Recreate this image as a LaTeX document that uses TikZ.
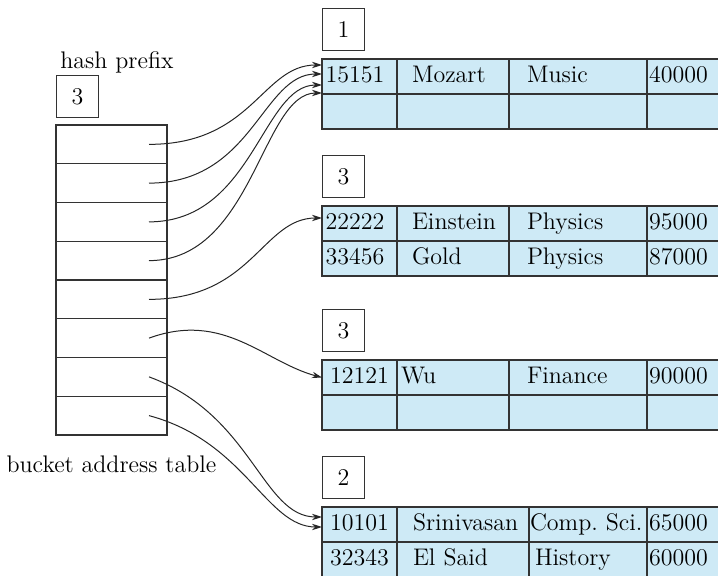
\documentclass[tikz,border=0pt]{standalone}
\usepackage{tikz}
\usetikzlibrary{
	arrows.meta,
	positioning
}
\definecolor{bucketblue}{RGB}{206,234,246}

\begin{document}
\begin{tikzpicture}[
				x=0.5pt, y=0.5pt,
				font=\fontsize{12}{14}\selectfont,
				slot/.style={
					rectangle, draw=black!80, line width=0.6pt, outer sep=0pt,
					minimum width=55.5pt, minimum height=19.375pt, inner sep=0pt
				},
				depthbox/.style={
					rectangle, draw=black!80, line width=0.6pt,
					minimum width=21pt, minimum height=21pt, inner sep=0pt
				},
				cell/.style={
					rectangle, draw=black!80, line width=0.6pt, outer sep=0pt,
					fill=bucketblue, minimum height=17.5pt, inner ysep=0pt,
					text height=1.6ex, text depth=0.3ex, align=left
				},
				idcol/.style={cell, text width=34pt, inner xsep=1.75pt},
				namecol/.style={cell, text width=41pt, inner xsep=7.5pt},
				deptcol/.style={cell, text width=51pt, inner xsep=9pt},
				salcol/.style={cell, text width=35pt, inner xsep=1pt},
				ptr/.style={-{Stealth[length=5pt, width=3.2pt]}, line width=0.5pt, black!85}
				]
				
				\useasboundingbox (0,0) rectangle (718,-576);
				
				% bucket address table
				\node[slot, anchor=north west] (s1) at (56,-125) {};
				\node[slot, below=0pt of s1] (s2) {};
				\node[slot, below=0pt of s2] (s3) {};
				\node[slot, below=0pt of s3] (s4) {};
				\node[slot, below=0pt of s4] (s5) {};
				\node[slot, below=0pt of s5] (s6) {};
				\node[slot, below=0pt of s6] (s7) {};
				\node[slot, below=0pt of s7] (s8) {};
				
				% global depth
				\node[depthbox, above=3.5pt of s1.north west, anchor=south west] (gd) {3};
				\node[anchor=base west, inner sep=0pt] (hp) at ([shift={(2pt,3pt)}]gd.north west) {hash prefix};
				\node[inner sep=0pt, below=10pt of s8] (bat) {bucket address table};
				
				% bucket 1
				\node[idcol, anchor=north west] (b1id) at (322,-59) {15151};
				\node[namecol, right=0pt of b1id] (b1name) {Mozart};
				\node[deptcol, right=0pt of b1name] (b1dept) {Music};
				\node[salcol, right=0pt of b1dept] (b1sal) {40000};
				\node[idcol, below=0pt of b1id] (b1idb) {};
				\node[namecol, below=0pt of b1name] (b1nameb) {};
				\node[deptcol, below=0pt of b1dept] (b1deptb) {};
				\node[salcol, below=0pt of b1sal] (b1salb) {};
				\node[depthbox, above=4pt of b1id.north west, anchor=south west] (d1) {1};
				
				% bucket 2
				\node[idcol, anchor=north west] (b2id) at (322,-206) {22222};
				\node[namecol, right=0pt of b2id] (b2name) {Einstein};
				\node[deptcol, right=0pt of b2name] (b2dept) {Physics};
				\node[salcol, right=0pt of b2dept] (b2sal) {95000};
				\node[idcol, below=0pt of b2id] (b2idb) {33456};
				\node[namecol, below=0pt of b2name] (b2nameb) {Gold};
				\node[deptcol, below=0pt of b2dept] (b2deptb) {Physics};
				\node[salcol, below=0pt of b2sal] (b2salb) {87000};
				\node[depthbox, above=4pt of b2id.north west, anchor=south west] (d2) {3};
				
				% bucket 3
				\node[idcol, anchor=north west, inner xsep=4pt, text width=29.5pt] (b3id) at (322,-360) {12121};
				\node[namecol, right=0pt of b3id, inner xsep=2pt, text width=52pt] (b3name) {Wu};
				\node[deptcol, right=0pt of b3name] (b3dept) {Finance};
				\node[salcol, right=0pt of b3dept] (b3sal) {90000};
				\node[idcol, below=0pt of b3id, inner xsep=4pt, text width=29.5pt] (b3idb) {};
				\node[namecol, below=0pt of b3name, inner xsep=2pt, text width=52pt] (b3nameb) {};
				\node[deptcol, below=0pt of b3dept] (b3deptb) {};
				\node[salcol, below=0pt of b3sal] (b3salb) {};
				\node[depthbox, above=4pt of b3id.north west, anchor=south west] (d3) {3};
				
				% bucket 4
				\node[idcol, anchor=north west, inner xsep=4pt, text width=29.5pt] (b4id) at (322,-507) {10101};
				\node[namecol, right=0pt of b4id, inner xsep=8pt, text width=50pt] (b4name) {Srinivasan};
				\node[deptcol, right=0pt of b4name, inner xsep=0.5pt, text width=58pt] (b4dept) {Comp.\ Sci.};
				\node[salcol, right=0pt of b4dept] (b4sal) {65000};
				\node[idcol, below=0pt of b4id, inner xsep=4pt, text width=29.5pt] (b4idb) {32343};
				\node[namecol, below=0pt of b4name, inner xsep=8pt, text width=50pt] (b4nameb) {El Said};
				\node[deptcol, below=0pt of b4dept, inner xsep=3pt, text width=53pt] (b4deptb) {History};
				\node[salcol, below=0pt of b4sal] (b4salb) {60000};
				\node[depthbox, above=4pt of b4id.north west, anchor=south west] (d4) {2};
				
				% pointers
				\draw[ptr] ([xshift=-9pt]s1.east) to[out=0, in=180, out distance=52pt, in distance=30pt] ([yshift=5.75pt]b1id.west);
				\draw[ptr] ([xshift=-9pt]s2.east) to[out=0, in=180, out distance=52pt, in distance=30pt] ([yshift=1.25pt]b1id.west);
				\draw[ptr] ([xshift=-9pt]s3.east) to[out=0, in=180, out distance=52pt, in distance=30pt] ([yshift=-4.25pt]b1id.west);
				\draw[ptr] ([xshift=-9pt]s4.east) to[out=0, in=180, out distance=52pt, in distance=30pt] ([yshift=-8.25pt]b1id.west);
				\draw[ptr] ([xshift=-9pt]s5.east) to[out=0, in=180, out distance=52pt, in distance=30pt] ([yshift=2.75pt]b2id.west);
				\draw[ptr] ([xshift=-9pt]s6.east) to[out=20, in=165, out distance=40pt, in distance=30pt] (b3id.west);
				\draw[ptr] ([xshift=-9pt]s7.east) to[out=-20, in=180, out distance=55pt, in distance=30pt] ([yshift=3.75pt]b4id.west);
				\draw[ptr] ([xshift=-9pt]s8.east) to[out=-15, in=180, out distance=50pt, in distance=28pt] ([yshift=-1.25pt]b4id.west);
			\end{tikzpicture}
\end{document}
